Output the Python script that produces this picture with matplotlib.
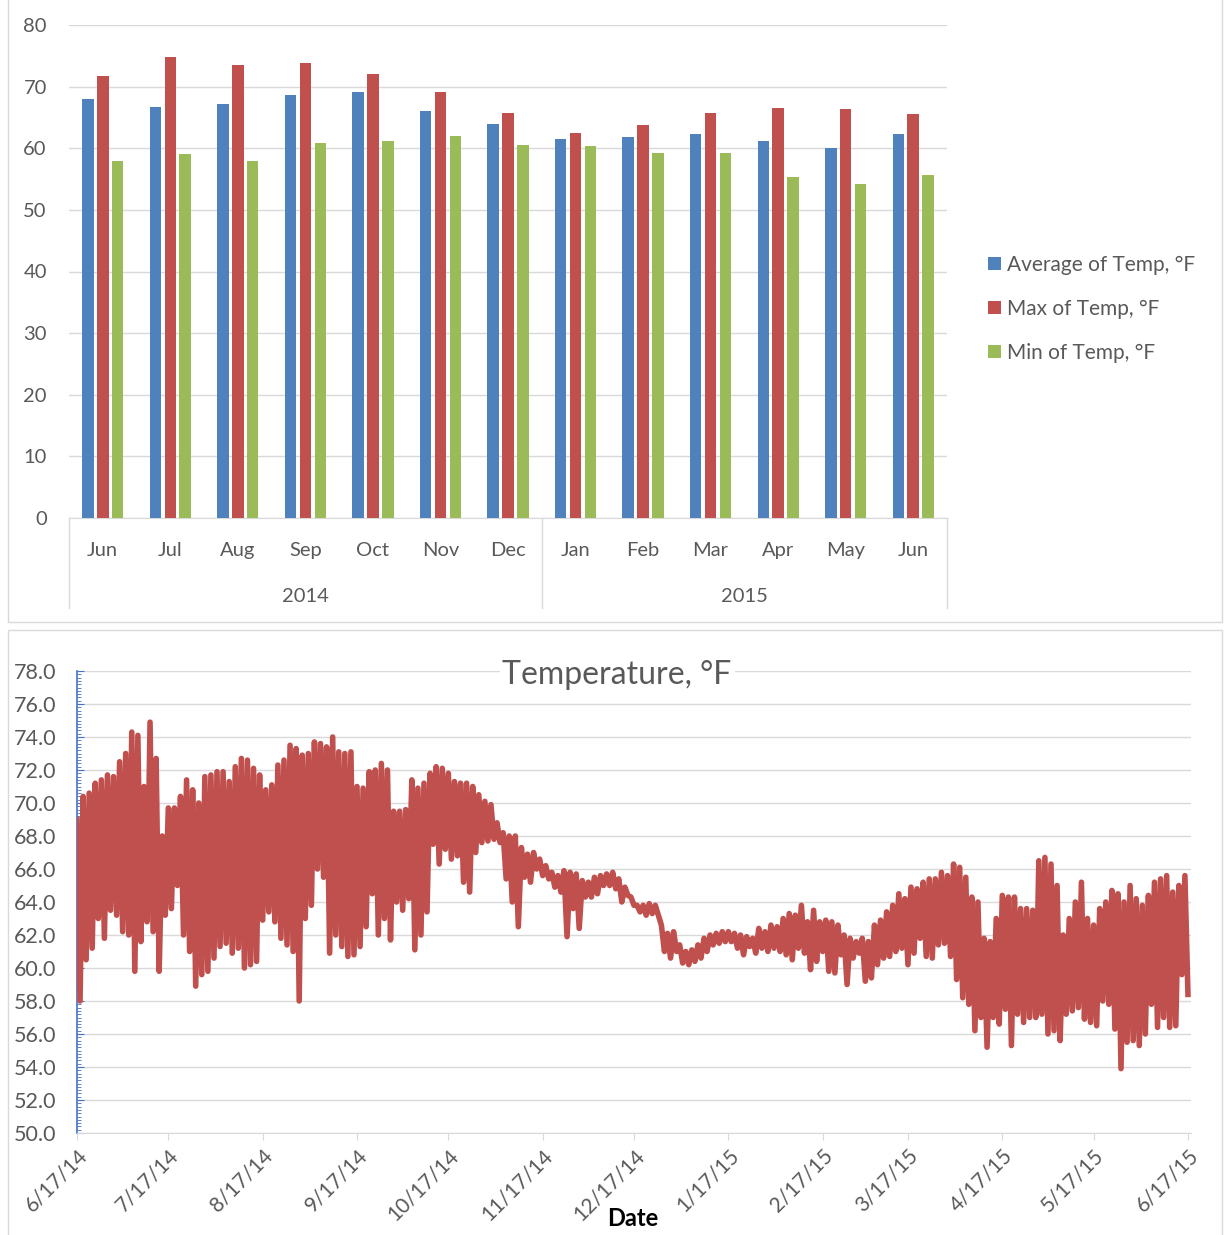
import matplotlib
matplotlib.use('Agg')
import matplotlib.pyplot as plt
import matplotlib.transforms as mtransforms
from matplotlib.patches import Rectangle
from matplotlib.ticker import MultipleLocator, FormatStrFormatter
import numpy as np

# monthly summary (top chart)
months = ['Jun', 'Jul', 'Aug', 'Sep', 'Oct', 'Nov', 'Dec',
          'Jan', 'Feb', 'Mar', 'Apr', 'May', 'Jun']
years = ['2014', '2015']
year_first = [0, 7]
year_last = [6, 12]
avg_temp = [68.0, 66.7, 67.1, 68.7, 69.2, 66.0, 63.9, 61.5, 61.9, 62.3, 61.2, 60.1, 62.3]
max_temp = [71.7, 74.8, 73.5, 73.9, 72.1, 69.2, 65.7, 62.5, 63.8, 65.7, 66.6, 66.3, 65.6]
min_temp = [58.0, 59.0, 58.0, 60.8, 61.2, 62.0, 60.6, 60.3, 59.2, 59.3, 55.3, 54.2, 55.7]
series_names = ['Average of Temp, °F', 'Max of Temp, °F', 'Min of Temp, °F']

# logged temperature (bottom chart), one peak and one trough per two days
start_date = '2014-06-17'
peak_f = [
    69.0, 70.4, 70.6, 71.2, 71.4, 71.7, 71.6, 72.5, 73.0, 74.3,
    74.1, 71.0, 74.9, 72.7, 68.0, 69.7, 69.7, 70.4, 71.4, 70.8,
    70.0, 71.6, 71.7, 71.9, 71.9, 71.3, 72.2, 72.7, 72.6, 72.1,
    71.7, 70.8, 71.1, 72.3, 72.6, 73.5, 73.3, 72.9, 73.0, 73.7,
    73.6, 73.4, 74.0, 73.1, 73.0, 73.1, 71.0, 70.9, 71.9, 72.0,
    72.4, 72.0, 69.5, 69.5, 69.6, 71.4, 70.9, 71.2, 71.8, 72.2,
    72.1, 71.8, 71.3, 71.2, 71.2, 71.0, 70.5, 70.1, 69.9, 68.8,
    68.2, 68.0, 68.0, 67.3, 66.9, 67.0, 66.6, 66.2, 65.8, 65.6,
    65.9, 65.8, 65.7, 65.3, 65.2, 65.5, 65.6, 65.7, 65.8, 65.4,
    64.9, 64.3, 63.8, 63.8, 63.9, 63.8, 62.6, 62.1, 62.2, 61.4,
    61.0, 61.1, 61.4, 61.8, 62.0, 62.1, 62.2, 62.2, 62.1, 62.0,
    61.9, 61.8, 62.4, 62.2, 62.6, 62.5, 63.0, 63.3, 63.2, 63.8,
    62.8, 63.5, 62.8, 62.9, 62.8, 62.6, 62.0, 61.8, 61.6, 61.8,
    61.6, 62.6, 62.9, 63.4, 63.8, 64.5, 64.2, 64.9, 64.8, 65.2,
    65.4, 65.4, 65.8, 65.6, 66.3, 66.1, 65.5, 64.3, 64.0, 61.8,
    61.6, 63.0, 64.4, 64.3, 64.3, 63.6, 63.6, 63.5, 66.5, 66.7,
    66.3, 65.0, 62.0, 63.0, 64.0, 65.2, 63.0, 62.6, 63.6, 64.0,
    64.7, 64.5, 64.0, 65.0, 64.2, 63.8, 64.4, 65.2, 65.4, 65.6,
    64.6, 65.0, 65.6,
]
trough_f = [
    58.0, 60.5, 61.2, 63.0, 61.8, 63.5, 63.2, 62.2, 62.0, 59.8,
    61.6, 62.8, 62.2, 59.8, 63.2, 63.6, 65.0, 62.0, 61.0, 58.9,
    59.6, 59.8, 60.6, 61.3, 61.5, 60.9, 61.2, 60.0, 60.2, 60.4,
    62.9, 63.4, 62.8, 61.8, 61.4, 61.0, 58.0, 63.0, 63.8, 66.0,
    65.5, 60.9, 62.0, 61.3, 60.7, 60.8, 61.3, 62.5, 64.5, 62.0,
    63.0, 61.7, 64.0, 63.5, 64.2, 61.1, 62.0, 63.4, 67.5, 66.3,
    67.2, 66.6, 66.8, 65.2, 64.6, 67.0, 67.6, 67.7, 67.8, 67.6,
    65.4, 64.0, 62.5, 65.5, 65.2, 66.0, 65.6, 65.4, 64.9, 64.6,
    61.9, 63.6, 62.4, 64.3, 64.3, 64.5, 65.0, 65.0, 64.8, 64.0,
    64.4, 63.8, 63.4, 63.2, 63.3, 63.2, 61.0, 60.6, 61.0, 60.3,
    60.2, 60.4, 60.6, 61.0, 61.4, 61.5, 61.6, 61.6, 61.2, 60.8,
    61.3, 60.9, 61.2, 61.0, 61.2, 61.0, 60.8, 60.5, 61.2, 60.9,
    59.9, 60.4, 61.0, 59.8, 59.7, 60.8, 59.0, 60.6, 60.9, 59.2,
    59.4, 60.2, 60.6, 60.7, 61.0, 61.2, 60.2, 60.9, 61.8, 60.7,
    60.6, 61.4, 61.5, 60.7, 59.3, 58.2, 57.8, 56.2, 57.0, 55.2,
    57.0, 56.6, 57.5, 55.3, 57.2, 56.7, 57.0, 57.0, 57.2, 56.0,
    56.2, 55.6, 57.2, 57.4, 57.6, 56.9, 56.7, 56.5, 58.0, 57.8,
    56.3, 53.9, 55.5, 55.6, 55.3, 56.0, 57.8, 56.4, 57.0, 56.4,
    56.5, 59.6, 58.4,
]
tick_dates = ['2014-06-17', '2014-07-17', '2014-08-17', '2014-09-17', '2014-10-17',
              '2014-11-17', '2014-12-17', '2015-01-17', '2015-02-17', '2015-03-17',
              '2015-04-17', '2015-05-17', '2015-06-17']

W, H = 1225, 1235
GRAY = '#595959'
GRID = '#D9D9D9'

plt.rcParams['font.family'] = ['Lato', 'DejaVu Sans']

fig = plt.figure(figsize=(W / 100, H / 100), dpi=100)

# ---------- top: clustered columns ----------
ax1 = fig.add_axes([69 / W, 1 - 518 / H, 878 / W, 493 / H])
x = np.arange(len(months))
bw, step = 0.17, 0.22
colors = ['#4F81BD', '#C0504D', '#9BBB59']
for i, (vals, c, name) in enumerate(zip([avg_temp, max_temp, min_temp], colors, series_names)):
    ax1.bar(x + (i - 1) * step, vals, width=bw, color=c, label=name, zorder=3)

ax1.set_xlim(-0.5, len(months) - 0.5)
ax1.set_ylim(0, 80)
ax1.set_yticks(range(0, 81, 10))
ax1.grid(axis='y', color=GRID, lw=1)
ax1.set_axisbelow(True)
for s in ['top', 'right', 'left']:
    ax1.spines[s].set_visible(False)
ax1.spines['bottom'].set_color(GRID)
ax1.tick_params(axis='y', length=0, pad=16, labelsize=14.5, labelcolor=GRAY)
ax1.set_xticks(x)
ax1.set_xticklabels(months)
ax1.tick_params(axis='x', length=0, pad=17.5, labelsize=14.5, labelcolor=GRAY)

trans = mtransforms.blended_transform_factory(ax1.transData, ax1.transAxes)
for xv in [-0.5, year_last[0] + 0.5, len(months) - 0.5]:
    ax1.plot([xv, xv], [0, -0.183], transform=trans, clip_on=False, color=GRID, lw=1)
for name, a, b in zip(years, year_first, year_last):
    ax1.text((a + b) / 2, -0.16, name, transform=trans, ha='center', va='center',
             fontsize=14.5, color=GRAY)

ax1.legend(loc='center left', bbox_to_anchor=(988 / W, 1 - 309 / H),
           bbox_transform=fig.transFigure, frameon=False, fontsize=15,
           labelcolor=GRAY, handlelength=0.6, handleheight=0.6,
           handletextpad=0.3, labelspacing=1.15, borderpad=0, borderaxespad=0)

# ---------- bottom: temperature log ----------
t0 = np.datetime64(start_date)
dates = t0 + np.arange(2 * len(peak_f))
temps = np.empty(2 * len(peak_f))
temps[0::2] = peak_f
temps[1::2] = trough_f

ax2 = fig.add_axes([77 / W, 1 - 1133 / H, 1114 / W, 462 / H])
ax2.plot(dates, temps, color='#C0504D', lw=4.0, zorder=3)
ax2.set_xlim(t0, t0 + 366)
ax2.set_ylim(50, 78)
ax2.yaxis.set_major_locator(MultipleLocator(2))
ax2.yaxis.set_minor_locator(MultipleLocator(0.2))
ax2.yaxis.set_major_formatter(FormatStrFormatter('%.1f'))
ax2.grid(axis='y', color=GRID, lw=1)
ax2.set_axisbelow(True)
for s in ['top', 'right']:
    ax2.spines[s].set_visible(False)
ax2.spines['left'].set_color('#4472C4')
ax2.spines['left'].set_linewidth(1.2)
ax2.spines['bottom'].set_color(GRID)
ax2.tick_params(axis='y', which='major', direction='in', length=5, color='#4472C4',
                pad=15, labelsize=15.5, labelcolor=GRAY)
ax2.tick_params(axis='y', which='minor', direction='in', length=3, color='#4472C4')

td = [np.datetime64(d) for d in tick_dates]
ax2.set_xticks(td)
ax2.set_xticklabels([f"{d.astype(object).month}/{d.astype(object).day}/{d.astype(object).year % 100}"
                     for d in td], rotation=45, ha='right', rotation_mode='anchor')
ax2.tick_params(axis='x', direction='out', length=5, color=GRID, pad=4,
                labelsize=15, labelcolor=GRAY)

fig.text(617 / W, 1 - 675 / H, 'Temperature, °F', ha='center', va='center', fontsize=23,
         color=GRAY, bbox=dict(facecolor='white', edgecolor='none', pad=2), zorder=5)
fig.text(633 / W, 1 - 1218 / H, 'Date', ha='center', va='center', fontsize=17,
         fontweight='bold', color='black')

# chart frames
fig.add_artist(Rectangle((8 / W, 1 - 622 / H), 1214 / W, 630 / H, transform=fig.transFigure,
                         fill=False, ec=GRID, lw=1))
fig.add_artist(Rectangle((8 / W, 1 - 1240 / H), 1214 / W, 610 / H, transform=fig.transFigure,
                         fill=False, ec=GRID, lw=1))

fig.savefig('out.png', dpi=100)
